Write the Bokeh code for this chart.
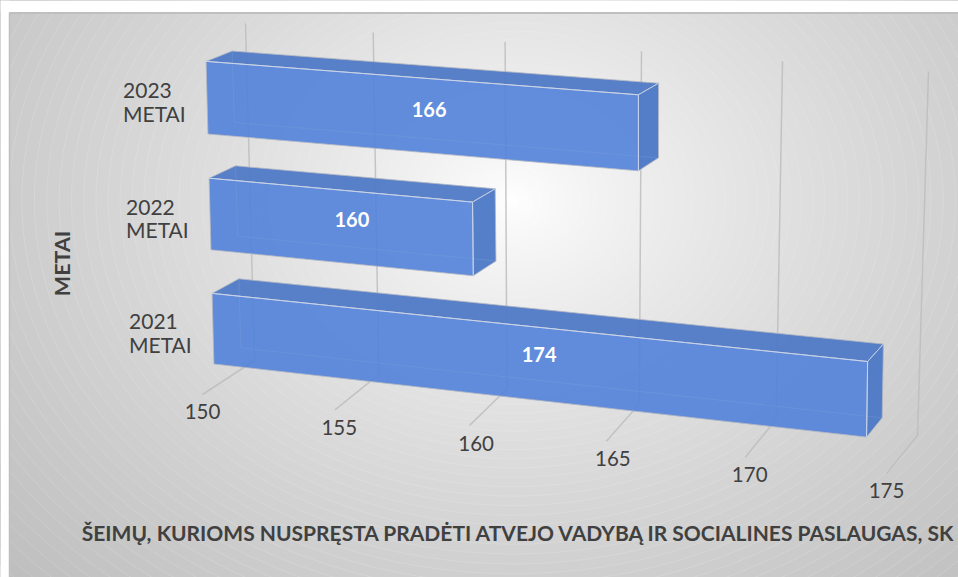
import numpy as np
from bokeh.plotting import figure
from bokeh.embed import file_html
from bokeh.resources import INLINE
from bokeh.core.properties import value

# ---- chart data ----
categories = ["2021\nMETAI", "2022\nMETAI", "2023\nMETAI"]
values = [174, 160, 166]
tick_values = [150, 155, 160, 165, 170, 175]
x_title = "ŠEIMŲ, KURIOMS NUSPRĘSTA PRADĖTI ATVEJO VADYBĄ IR SOCIALINES PASLAUGAS, SK"
y_title = "METAI"
V0, V1 = 150, 175
NCAT = len(categories)
BAR_GAP = 0.19   # share of a category left empty on each side of a bar


# ---- camera: perspective planes of the 3-D chart box ----
def homography(c00, c10, c01, c11):
    """Unit square -> quadrilateral"""
    (x0, y0), (x1, y1), (x3, y3), (x2, y2) = c00, c10, c01, c11
    dx1, dx2, sx = x1 - x2, x3 - x2, x0 - x1 + x2 - x3
    dy1, dy2, sy = y1 - y2, y3 - y2, y0 - y1 + y2 - y3
    den = dx1 * dy2 - dx2 * dy1
    g = (sx * dy2 - dx2 * sy) / den
    h = (dx1 * sy - sx * dy1) / den
    return np.array([
        [x1 - x0 + g * x1, x3 - x0 + h * x3, x0],
        [y1 - y0 + g * y1, y3 - y0 + h * y3, y0],
        [g, h, 1.0],
    ])


def plane(c00, c10, c01, c11, u1, w1):
    H = homography(c00, c10, c01, c11)

    def f(v, w):
        u = (v - V0) / (u1 - V0)
        q = H @ np.array([u, w / w1, 1.0])
        return q[0] / q[2], q[1] / q[2]
    return f


bar_front = plane((214, 385), (895, 463), (205, 38.5), (901, 90.5), V1, NCAT)
bar_back = plane((241, 368.5), (910, 443), (231, 28.5), (917, 78.5), V1, NCAT)
wall = plane((254, 360), (917, 435), (245, 23), (928, 71), V1, NCAT)
floor = plane((254, 360), (917, 435), (202, 394), (886, 473), V1, 1)

W, H = 958, 577
p = figure(width=W, height=H, x_range=(0, W), y_range=(H, 0),
           toolbar_location=None, output_backend="svg", min_border=0,
           outline_line_color=None, background_fill_color="white")
p.axis.visible = False
p.grid.visible = False

# ---- background: radial gradient with its banding ----
L, T = 9, 12
CX, CY, SQUASH, RMAX = 513, 200, 1.25, 700
levels = np.arange(190, 255)
radii = RMAX * ((255 - levels) / 65.0) ** (1 / 0.8)
p.quad(left=[L], right=[W], top=[T], bottom=[H], fill_color="#bebebe", line_color=None)
fills = ["#%02x%02x%02x" % (g, g, g) for g in levels]
rings = []
for g, rad in zip(levels, radii):
    c = min(int(g + 1 + 11 * np.clip((rad - 120) / 450, 0, 1)), 255)
    rings.append("#%02x%02x%02x" % (c, c, c))
p.ellipse(x=[CX] * len(levels), y=[CY] * len(levels), width=2 * radii, height=2 * radii / SQUASH,
          fill_color=fills, line_color=rings, line_width=0.7)
p.quad(left=[0], right=[W], top=[0], bottom=[T], fill_color="white", line_color=None)
p.quad(left=[0], right=[L], top=[0], bottom=[H], fill_color="white", line_color=None)
p.line([L, W], [T + .5, T + .5], line_color="#bfbfbf", line_width=2)
p.line([L, L], [T, H], line_color="#bfbfbf", line_width=1.5)

# ---- gridlines on wall and floor ----
GRID = "#bdbdbd"
for v in tick_values:
    a, b = wall(v, NCAT), wall(v, 0)
    c = floor(v, 1)
    p.line([a[0], b[0], c[0]], [a[1], b[1], c[1]], line_color=GRID, line_width=1.5, line_alpha=0.85)

# ---- bars, far ones first ----
for i in reversed(range(NCAT)):
    val = values[i]
    t0, t1 = i + BAR_GAP, i + 1 - BAR_GAP
    fbl, fbr, ftl, ftr = bar_front(V0, t0), bar_front(val, t0), bar_front(V0, t1), bar_front(val, t1)
    bbl, bbr, btl, btr = bar_back(V0, t0), bar_back(val, t0), bar_back(V0, t1), bar_back(val, t1)
    faces = [
        ([ftl, ftr, btr, btl], "#507ac6", 0.95),
        ([ftr, fbr, bbr, btr], "#4c79c6", 0.95),
        ([ftl, ftr, fbr, fbl], "#5182d9", 0.9),
    ]
    for pts, col, alpha in faces:
        p.patch([q[0] for q in pts], [q[1] for q in pts], fill_color=col, fill_alpha=alpha,
                line_color="#b4b8c2", line_width=1, line_alpha=0.8)
    # hidden edges seen through the front face, and the highlighted front edges
    p.line([btl[0], bbl[0], bbr[0]], [btl[1], bbl[1], bbr[1]], line_color="#8fa9dc", line_width=1, line_alpha=0.25)
    p.line([ftl[0], ftr[0], fbr[0]], [ftl[1], ftr[1], fbr[1]], line_color="#c8d5ef", line_width=1)
    p.line([ftr[0], btr[0]], [ftr[1], btr[1]], line_color="#c8d5ef", line_width=1, line_alpha=0.7)
    # value label at the centre of the box
    cf, cb = bar_front((V0 + val) / 2, i + .5), bar_back((V0 + val) / 2, i + .5)
    p.text([(cf[0] + cb[0]) / 2], [(cf[1] + cb[1]) / 2], text=[str(val)], text_color="white",
           text_font=value("Lato"), text_font_style="bold", text_font_size="20px",
           text_align="center", text_baseline="middle")

# ---- category labels ----
for i, lab in enumerate(categories):
    a = bar_front(V0, i + .5)
    p.text([a[0] - 84], [a[1] + 4], text=[lab], text_color="#404040", text_font=value("Lato"),
           text_font_size="21px", text_align="left", text_baseline="middle", text_line_height=0.95)

# ---- value-axis labels: evenly spaced below the floor ----
a, b = floor(V0, 1), floor(V1, 1)
tick_x = [a[0] + (b[0] - a[0]) * (v - V0) / (V1 - V0) for v in tick_values]
tick_y = [a[1] + 17 + (b[1] - a[1]) * (v - V0) / (V1 - V0) for v in tick_values]
p.text(tick_x, tick_y, text=[str(v) for v in tick_values], text_color="#404040",
       text_font=value("Lato"), text_font_size="20.5px", text_align="center", text_baseline="middle")

# ---- axis titles ----
p.text([518.5], [532], text=[x_title], text_color="#404040", text_font=value("Lato"),
       text_font_style="bold", text_font_size="21px", text_align="center", text_baseline="middle")
p.text([61.5], [263], text=[y_title], text_color="#404040", text_font=value("Lato"),
       text_font_style="bold", text_font_size="21.5px", text_align="center", text_baseline="middle",
       angle=np.pi / 2)

open("out.html", "w").write(file_html(p, INLINE))
